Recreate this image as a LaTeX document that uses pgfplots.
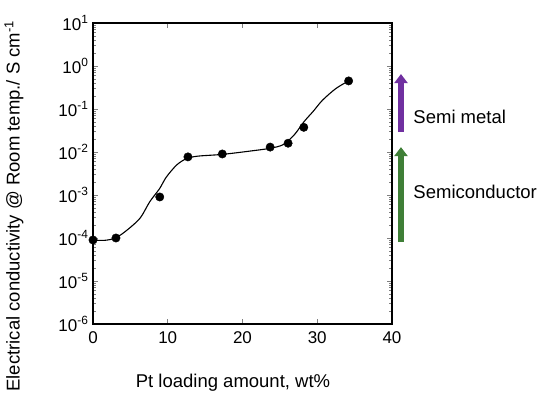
\documentclass[border=0pt]{standalone}
\usepackage{pgfplots}
\pgfplotsset{compat=1.18}
\usepackage{fontspec}
\setmainfont{Liberation Sans}
\usetikzlibrary{arrows.meta}
\definecolor{semimetal}{HTML}{7030A0}
\definecolor{semicond}{HTML}{3F7F37}
\begin{document}
\begin{tikzpicture}[x=1pt,y=1pt]
\begin{axis}[
  at={(0,0)}, anchor=south west,
  scale only axis, width=299pt, height=301pt,
  xmin=0, xmax=40, ymin=1e-6, ymax=1e1,
  ymode=log,
  xtick={0,10,20,30,40},
  ytick={1e-6,1e-5,1e-4,1e-3,1e-2,1e-1,1e0,1e1},
  yticklabels={10\textsuperscript{-6},10\textsuperscript{-5},10\textsuperscript{-4},10\textsuperscript{-3},10\textsuperscript{-2},10\textsuperscript{-1},10\textsuperscript{0},10\textsuperscript{1}},
  /pgf/number format/assume math mode=true,
  tick label style={font=\fontsize{17}{20}\selectfont},
  xticklabel style={yshift=-4pt},
  yticklabel style={xshift=-1pt},
  axis line style={line width=1.1pt},
  major tick style={line width=0.9pt},
  minor tick style={line width=0.6pt},
  major tick length=5pt, minor tick length=3pt,
  clip=false,
]
\addplot[black, line width=1.1pt, smooth, tension=0.5] coordinates {
(0,9e-5) (1.5,8.8e-5) (3,1.0e-4) (4.5,1.5e-4) (6.3,2.9e-4) (7.6,7e-4)
(8.9,1.4e-3) (9.8,2.6e-3) (11.2,5e-3) (12.5,7e-3) (14,8e-3) (17.3,8.8e-3)
(21,1.05e-2) (23.7,1.22e-2) (25.5,1.5e-2) (27,2.6e-2) (28.2,5e-2)
(29.5,9e-2) (30.7,0.16) (32.5,0.3) (34.2,0.45)
};
\addplot[only marks, mark=*, mark size=4.2pt, black] coordinates {
(0,0.9e-4) (3.07,1.0e-4) (8.93,0.9e-3) (12.7,7.7e-3) (17.3,9e-3)
(23.7,1.3e-2) (26.1,1.6e-2) (28.2,3.75e-2) (34.2,0.45)
};
\addplot[semimetal, line width=6pt, -{Triangle[width=13pt,length=9pt]}] coordinates {(41.2,0.029) (41.2,0.65)};
\addplot[semicond, line width=6pt, -{Triangle[width=13pt,length=9pt]}] coordinates {(41.2,8e-5) (41.2,0.013)};
\node[anchor=west, font=\fontsize{18.5}{22}\selectfont] at (axis cs:42.4,0.065) {Semi metal};
\node[anchor=west, font=\fontsize{18.5}{22}\selectfont] at (axis cs:42.4,1.2e-3) {Semiconductor};
\end{axis}
\node[font=\fontsize{18.5}{22}\selectfont] at (140,-59) {Pt loading amount, wt\%};
\node[rotate=90, anchor=east, font=\fontsize{18.5}{22}\selectfont] at (-79,307) {Electrical conductivity @ Room temp./ S cm\textsuperscript{-1}};
\pgfresetboundingbox
\useasboundingbox (-93,-72) rectangle (445,324);
\end{tikzpicture}
\end{document}
